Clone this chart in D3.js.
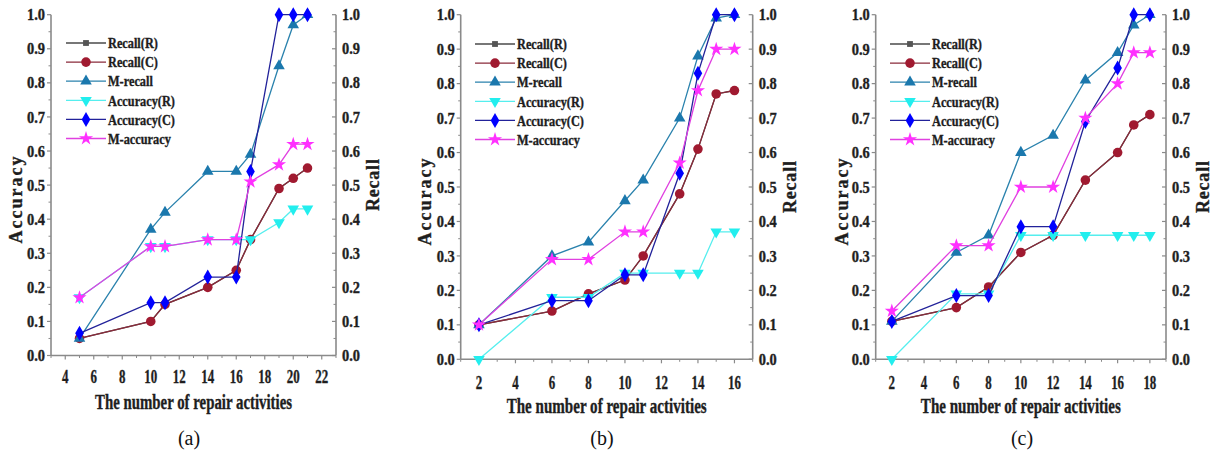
<!DOCTYPE html>
<html><head><meta charset="utf-8">
<script src="https://cdn.jsdelivr.net/npm/d3@7/dist/d3.min.js"></script>
<style>html,body{margin:0;padding:0;background:#fff;} svg text{font-family:'Liberation Serif','Times New Roman',serif;}</style>
</head><body>
<script>
// ---------- DATA ----------
const seriesNames = ["Recall(R)","Recall(C)","M-recall","Accuracy(R)","Accuracy(C)","M-accuracy"];
const panelLabels = ["(a)","(b)","(c)"];
const xTitle = "The number of repair activities";
const yLeftTitle = "Accuracy";
const yRightTitle = "Recall";
const yTicks = [0,0.1,0.2,0.3,0.4,0.5,0.6,0.7,0.8,0.9,1.0];

// Panel (a)
const xA = [5,10,11,14,16,17,19,20,21];
const recallR_A   = [0.05,0.10,0.15,0.20,0.25,0.34,0.49,0.52,0.55];
const recallC_A   = [0.05,0.10,0.15,0.20,0.25,0.34,0.49,0.52,0.55];
const mRecall_A   = [0.05,0.37,0.42,0.54,0.54,0.59,0.85,0.97,1.00];
const accR_A      = [0.17,0.32,0.32,0.34,0.34,0.34,0.39,0.43,0.43];
const accC_A      = [0.065,0.155,0.155,0.23,0.23,0.54,1.00,1.00,1.00];
const mAcc_A      = [0.17,0.32,0.32,0.34,0.34,0.51,0.56,0.62,0.62];
const xTicksA = [4,6,8,10,12,14,16,18,20,22];

// Panel (b)
const xB = [2,6,8,10,11,13,14,15,16];
const recallR_B   = [0.10,0.14,0.19,0.23,0.30,0.48,0.61,0.77,0.78];
const recallC_B   = [0.10,0.14,0.19,0.23,0.30,0.48,0.61,0.77,0.78];
const mRecall_B   = [0.10,0.30,0.34,0.46,0.52,0.70,0.88,0.99,1.00];
const accR_B      = [0.00,0.18,0.18,0.25,0.25,0.25,0.25,0.37,0.37];
const accC_B      = [0.10,0.17,0.17,0.245,0.245,0.54,0.83,1.00,1.00];
const mAcc_B      = [0.10,0.29,0.29,0.37,0.37,0.57,0.78,0.90,0.90];
const xTicksB = [2,4,6,8,10,12,14,16];

// Panel (c)
const xC = [2,6,8,10,12,14,16,17,18];
const recallR_C   = [0.11,0.15,0.21,0.31,0.36,0.52,0.60,0.68,0.71];
const recallC_C   = [0.11,0.15,0.21,0.31,0.36,0.52,0.60,0.68,0.71];
const mRecall_C   = [0.11,0.31,0.36,0.60,0.65,0.81,0.89,0.97,1.00];
const accR_C      = [0.00,0.19,0.19,0.36,0.36,0.36,0.36,0.36,0.36];
const accC_C      = [0.11,0.185,0.185,0.385,0.385,0.69,0.845,1.00,1.00];
const mAcc_C      = [0.14,0.33,0.33,0.50,0.50,0.70,0.80,0.89,0.89];
const xTicksC = [2,4,6,8,10,12,14,16,18];

// ---------- STYLE ----------
const lineColors   = ["#4a4a4a","#8a2a3a","#2a82ad","#55eeee","#22229a","#e040e0"];
const markerColors = ["#555555","#a01a30","#1b78ad","#22eeee","#0000ff","#ff30ff"];

const panels = [
  {x:xA, ys:[recallR_A,recallC_A,mRecall_A,accR_A,accC_A,mAcc_A], xDomain:[3,23], xTicks:xTicksA,
   left:51, right:336, top:14.7, bottom:355.5, tickY:377, titleY:402, titleW:197, capX:189,
   legX:66, legY:43, accX:16, recX:373},
  {x:xB, ys:[recallR_B,recallC_B,mRecall_B,accR_B,accC_B,mAcc_B], xDomain:[1,17], xTicks:xTicksB,
   left:460.7, right:752.7, top:14.7, bottom:359.3, tickY:383, titleY:406, titleW:200, capX:602,
   legX:475, legY:44, accX:425, recX:790},
  {x:xC, ys:[recallR_C,recallC_C,mRecall_C,accR_C,accC_C,mAcc_C], xDomain:[1,19], xTicks:xTicksC,
   left:875.7, right:1166, top:14.7, bottom:359.3, tickY:383, titleY:406, titleW:200, capX:1022,
   legX:890, legY:44, accX:842, recX:1203}
];

const FONT = "'Liberation Serif','Times New Roman',serif";
const svg = d3.select("body").append("svg").attr("width",1215).attr("height",455)
  .attr("font-family", FONT);

function squeeze(sel, f){
  sel.each(function(){
    const w = this.getComputedTextLength();
    d3.select(this).attr("textLength", w*f).attr("lengthAdjust","spacingAndGlyphs");
  });
}
function heavy(sel, c){
  return sel.attr("font-family",FONT).attr("font-weight","bold").attr("fill",c)
    .attr("stroke",c).attr("stroke-width",0.35);
}

function markerPath(i){
  switch(i){
    case 0: return d3.symbol(d3.symbolSquare, 34)();
    case 1: return d3.symbol(d3.symbolCircle, 72)();
    case 2: return d3.symbol(d3.symbolTriangle, 58)();
    case 3: return d3.symbol(d3.symbolTriangle, 58)();
    case 4: return "M0,-7.5L4.3,0L0,7.5L-4.3,0Z";
    case 5: return d3.symbol(d3.symbolStar, 62)();
  }
}
function markerTransform(i, x, y){
  return i===3 ? `translate(${x},${y}) rotate(180)` : `translate(${x},${y})`;
}

const axisColor = "#8a8a8a";
const textColor = "#1e1e1e";

panels.forEach((p, pi) => {
  const g = svg.append("g");
  const xs = d3.scaleLinear().domain(p.xDomain).range([p.left, p.right]);
  const ys = d3.scaleLinear().domain([0,1]).range([p.bottom, p.top]);

  g.append("line").attr("x1",p.left).attr("x2",p.left).attr("y1",p.top).attr("y2",p.bottom)
    .attr("stroke",axisColor).attr("stroke-width",1.6);
  g.append("line").attr("x1",p.right).attr("x2",p.right).attr("y1",p.top).attr("y2",p.bottom)
    .attr("stroke",axisColor).attr("stroke-width",1.6);
  g.append("line").attr("x1",p.left).attr("x2",p.right).attr("y1",p.bottom).attr("y2",p.bottom)
    .attr("stroke",axisColor).attr("stroke-width",1.6);

  const minorY = d3.range(0.05, 1.0, 0.1);
  [p.left, p.right].forEach(ax => {
    g.selectAll(null).data(yTicks).enter().append("line")
      .attr("x1",ax-4).attr("x2",ax).attr("y1",d=>ys(d)).attr("y2",d=>ys(d))
      .attr("stroke",axisColor).attr("stroke-width",1.2);
    g.selectAll(null).data(minorY).enter().append("line")
      .attr("x1",ax-2.5).attr("x2",ax).attr("y1",d=>ys(d)).attr("y2",d=>ys(d))
      .attr("stroke",axisColor).attr("stroke-width",1);
  });
  const minorX = d3.range(Math.ceil(p.xDomain[0]), p.xDomain[1]+0.01, 1).filter(v => !p.xTicks.includes(v));
  g.selectAll(null).data(p.xTicks).enter().append("line")
    .attr("x1",d=>xs(d)).attr("x2",d=>xs(d)).attr("y1",p.bottom).attr("y2",p.bottom+4)
    .attr("stroke",axisColor).attr("stroke-width",1.2);
  g.selectAll(null).data(minorX).enter().append("line")
    .attr("x1",d=>xs(d)).attr("x2",d=>xs(d)).attr("y1",p.bottom).attr("y2",p.bottom+2.5)
    .attr("stroke",axisColor).attr("stroke-width",1);

  const lblL = heavy(g.selectAll(null).data(yTicks).enter().append("text"), textColor)
    .attr("x",p.left-6).attr("y",d=>ys(d)).attr("dy","0.35em").attr("text-anchor","end")
    .attr("font-size",16).text(d=>d.toFixed(1));
  squeeze(lblL, 0.9);
  const lblR = heavy(g.selectAll(null).data(yTicks).enter().append("text"), textColor)
    .attr("x",p.right+6).attr("y",d=>ys(d)).attr("dy","0.35em").attr("text-anchor","start")
    .attr("font-size",16).text(d=>d.toFixed(1));
  squeeze(lblR, 0.9);
  const lblX = heavy(g.selectAll(null).data(p.xTicks).enter().append("text"), textColor)
    .attr("x",d=>xs(d)).attr("y",p.tickY).attr("dy","0.35em").attr("text-anchor","middle")
    .attr("font-size",18).text(d=>d);
  squeeze(lblX, 0.72);

  heavy(g.append("text"), textColor).attr("x",(p.left+p.right)/2).attr("y",p.titleY).attr("dy","0.35em")
    .attr("text-anchor","middle").attr("font-size",20)
    .attr("textLength",p.titleW).attr("lengthAdjust","spacingAndGlyphs").text(xTitle);
  heavy(g.append("text"), textColor).attr("transform",`translate(${p.accX},${(p.top+p.bottom)/2+15}) rotate(-90)`)
    .attr("dy","0.35em").attr("text-anchor","middle").attr("font-size",18)
    .attr("textLength",87).attr("lengthAdjust","spacing").text(yLeftTitle);
  heavy(g.append("text"), textColor).attr("transform",`translate(${p.recX},${(p.top+p.bottom)/2}) rotate(-90)`)
    .attr("dy","0.35em").attr("text-anchor","middle").attr("font-size",18)
    .attr("textLength",52).attr("lengthAdjust","spacing").text(yRightTitle);

  g.append("text").attr("x",p.capX).attr("y",438).attr("dy","0.35em").attr("text-anchor","middle")
    .attr("font-family",FONT).attr("font-size",20).attr("fill","#111").text(panelLabels[pi]);

  p.ys.forEach((vals, si) => {
    const pts = p.x.map((xv,k)=>[xv, vals[k]]);
    g.append("path").datum(pts)
      .attr("d", d3.line().x(d=>xs(d[0])).y(d=>ys(d[1])))
      .attr("fill","none").attr("stroke",lineColors[si]).attr("stroke-width",1.3);
    g.selectAll(null).data(pts).enter().append("path")
      .attr("d", markerPath(si))
      .attr("transform", d=>markerTransform(si, xs(d[0]), ys(d[1])))
      .attr("fill", markerColors[si]);
  });

  seriesNames.forEach((name, si) => {
    const yy = p.legY + si*19.1;
    g.append("line").attr("x1",p.legX).attr("x2",p.legX+40).attr("y1",yy).attr("y2",yy)
      .attr("stroke",lineColors[si]).attr("stroke-width",1.3);
    g.append("path").attr("d",markerPath(si)).attr("transform",markerTransform(si,p.legX+20,yy))
      .attr("fill",markerColors[si]);
    const t = heavy(g.append("text"), textColor).attr("x",p.legX+42).attr("y",yy).attr("dy","0.35em")
      .attr("font-size",15).text(name);
    squeeze(t, 0.82);
  });
});
</script>
</body></html>
